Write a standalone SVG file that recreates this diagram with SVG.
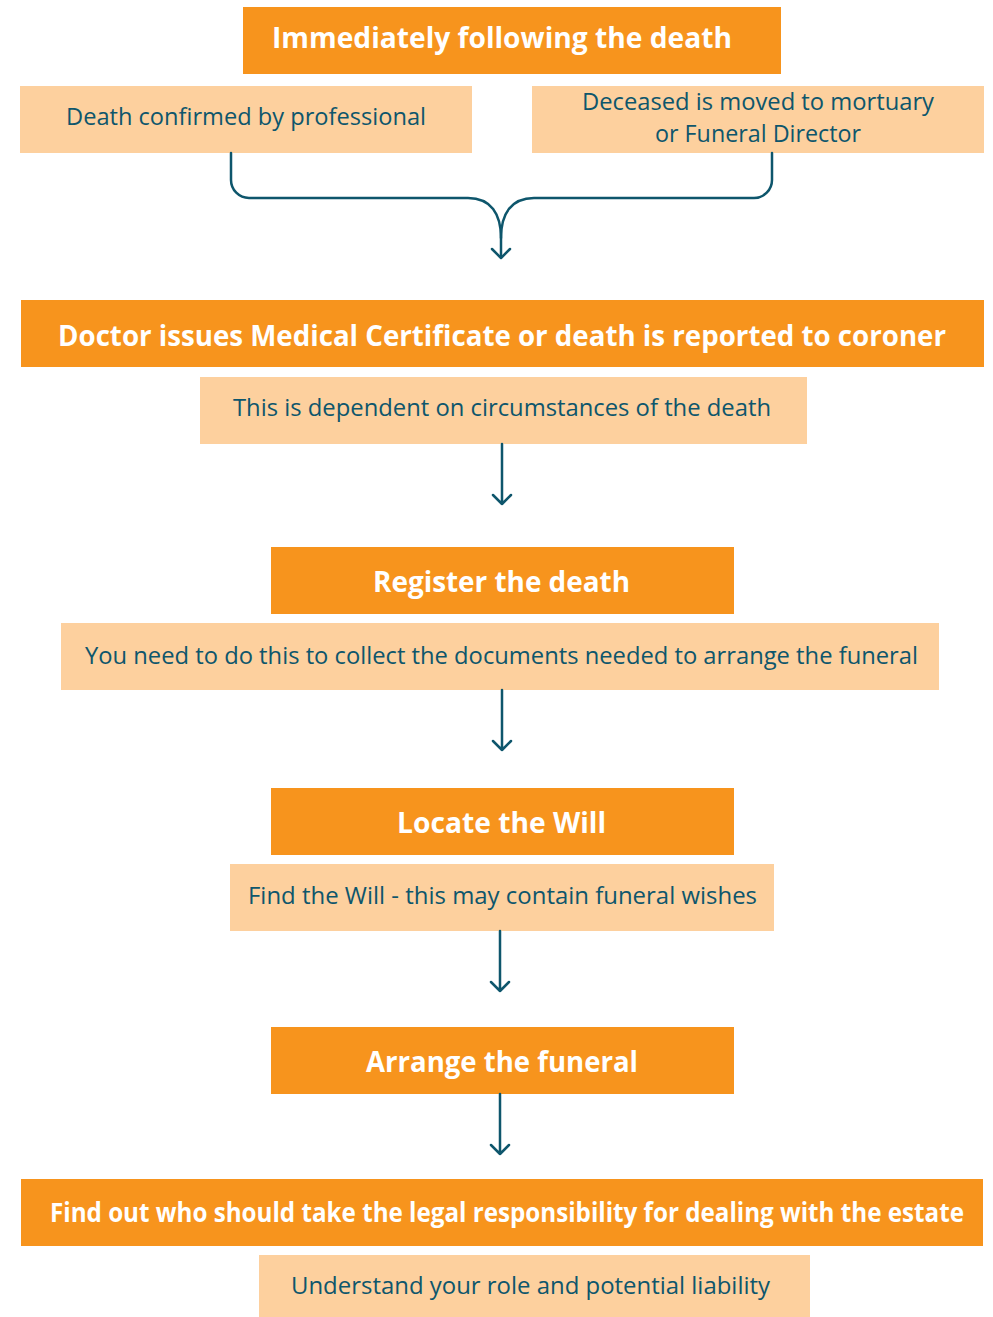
<svg xmlns="http://www.w3.org/2000/svg" width="993" height="1317" viewBox="0 0 993 1317">
<style>
.h{fill:#F7941D}
.s{fill:#FDD09E}
.ht{font-family:"Open Sans","Noto Sans",sans-serif;font-weight:bold;fill:#fff;text-anchor:middle}
.st{font-family:"Open Sans","Noto Sans",sans-serif;fill:#0E566C;text-anchor:middle;font-size:23px}
.c{fill:none;stroke:#0E566C;stroke-width:2.5;stroke-linecap:round;stroke-linejoin:round}
</style>
<rect width="993" height="1317" fill="#fff"/>
<g id="n1"><rect class="h" x="243" y="7" width="538" height="67"/><text class="ht" x="502" y="48" font-size="28" textLength="460" lengthAdjust="spacingAndGlyphs">Immediately following the death</text></g>
<g id="n2"><rect class="s" x="20" y="86" width="452" height="67"/><text class="st" x="246" y="125" textLength="360" lengthAdjust="spacingAndGlyphs">Death confirmed by professional</text></g>
<g id="n3"><rect class="s" x="532" y="86" width="452" height="67"/><text class="st" x="758" y="110" textLength="352" lengthAdjust="spacingAndGlyphs">Deceased is moved to mortuary</text><text class="st" x="758" y="142" textLength="206" lengthAdjust="spacingAndGlyphs">or Funeral Director</text></g>
<g id="n4"><rect class="h" x="21" y="300" width="963" height="67"/><text class="ht" x="502" y="346" font-size="28" textLength="888" lengthAdjust="spacingAndGlyphs">Doctor issues Medical Certificate or death is reported to coroner</text></g>
<g id="n5"><rect class="s" x="200" y="377" width="607" height="67"/><text class="st" x="502" y="416" textLength="538" lengthAdjust="spacingAndGlyphs">This is dependent on circumstances of the death</text></g>
<g id="n6"><rect class="h" x="271" y="547" width="463" height="67"/><text class="ht" x="501.5" y="592" font-size="28" textLength="257" lengthAdjust="spacingAndGlyphs">Register the death</text></g>
<g id="n7"><rect class="s" x="61" y="623" width="878" height="67"/><text class="st" x="501.5" y="664" textLength="833" lengthAdjust="spacingAndGlyphs">You need to do this to collect the documents needed to arrange the funeral</text></g>
<g id="n8"><rect class="h" x="271" y="788" width="463" height="67"/><text class="ht" x="501.5" y="833" font-size="28" textLength="209" lengthAdjust="spacingAndGlyphs">Locate the Will</text></g>
<g id="n9"><rect class="s" x="230" y="864" width="544" height="67"/><text class="st" x="502.5" y="904" textLength="509" lengthAdjust="spacingAndGlyphs">Find the Will - this may contain funeral wishes</text></g>
<g id="n10"><rect class="h" x="271" y="1027" width="463" height="67"/><text class="ht" x="502" y="1072" font-size="28" textLength="272" lengthAdjust="spacingAndGlyphs">Arrange the funeral</text></g>
<g id="n11"><rect class="h" x="21" y="1179" width="962" height="67"/><text class="ht" x="507" y="1222" font-size="26" textLength="914" lengthAdjust="spacingAndGlyphs">Find out who should take the legal responsibility for dealing with the estate</text></g>
<g id="n12"><rect class="s" x="259" y="1255" width="551" height="62"/><text class="st" x="530.5" y="1294" textLength="479" lengthAdjust="spacingAndGlyphs">Understand your role and potential liability</text></g>
<g id="connectors">
<path class="c" d="M231,153 V180 A18,18 0 0 0 249,198 H468 C491,198 501,214 501,238 V257"/>
<path class="c" d="M772,153 V180 A18,18 0 0 1 754,198 H534 C511,198 501,214 501,238"/>
<path class="c" d="M492,249 L501,258 L510,249"/>
<path class="c" d="M502,444 V504 M493,495 L502,504 L511,495"/>
<path class="c" d="M502,690 V750 M493,741 L502,750 L511,741"/>
<path class="c" d="M500,931 V991 M491,982 L500,991 L509,982"/>
<path class="c" d="M500,1094 V1154 M491,1145 L500,1154 L509,1145"/>
</g>
</svg>
